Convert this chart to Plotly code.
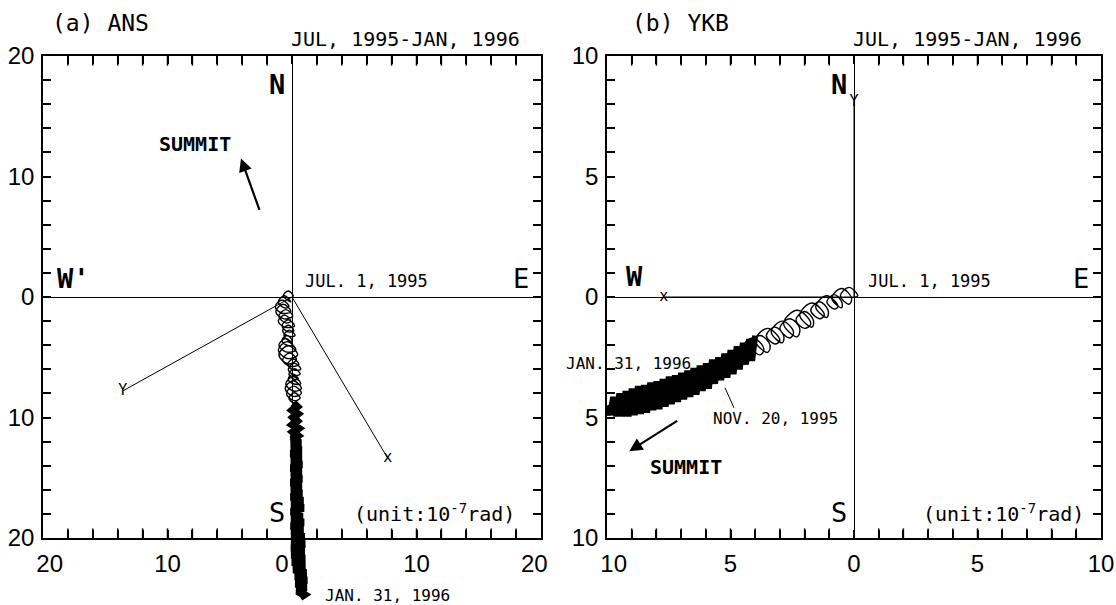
import plotly.graph_objects as go

# ---------------------------------------------------------------- data
# Tilt trajectories (east component, north component), unit 1e-7 rad

# (a) ANS - early looping part after JUL. 1, 1995
ans_loop_e = [0.0, 0.1, -0.3, -0.7, -0.3, -0.1, -0.6, -1.1, -0.6, -0.25, -0.8, -1.35, -0.8,
              -0.1, -0.7, -1.3, -0.7, 0.05, -0.5, -1.05, -0.5, -0.1, -0.6, -1.1, -0.6,
              0.2, -0.3, -0.8, -0.3, 0.15, -0.3, -0.75, -0.3, 0.25, -0.2, -0.65, -0.2,
              0.0, -0.4, -0.8, -0.4, 0.05, -0.5, -1.05, -0.5, 0.3, -0.4, -1.1, -0.4,
              0.45, -0.3, -1.05, -0.3, 0.35, -0.2, -0.75, -0.2, 0.55, 0.1, -0.35, 0.1,
              0.7, 0.2, -0.3, 0.2, 0.65, 0.2, -0.25, 0.2, 0.5, 0.1, -0.3, 0.1,
              0.7, 0.1, -0.5, 0.1, 0.75, 0.1, -0.55, 0.1, 0.75, 0.15, -0.45, 0.15,
              0.65, 0.2, -0.25, 0.2]
ans_loop_n = [0.0, 0.1, 0.5, 0.1, -0.3, -0.4, 0.1, -0.4, -0.9, -0.8, -0.25, -0.8, -1.35,
              -1.2, -0.6, -1.2, -1.8, -1.6, -1.05, -1.6, -2.15, -2.0, -1.5, -2.0, -2.5,
              -2.4, -1.9, -2.4, -2.9, -2.8, -2.35, -2.8, -3.25, -3.2, -2.75, -3.2, -3.65,
              -3.6, -3.2, -3.6, -4.0, -4.0, -3.45, -4.0, -4.55, -4.4, -3.7, -4.4, -5.1,
              -4.8, -4.05, -4.8, -5.55, -5.2, -4.65, -5.2, -5.75, -5.6, -5.15, -5.6, -6.05,
              -6.0, -5.5, -6.0, -6.5, -6.4, -5.95, -6.4, -6.85, -6.8, -6.4, -6.8, -7.2,
              -7.2, -6.6, -7.2, -7.8, -7.6, -6.95, -7.6, -8.25, -8.0, -7.4, -8.0, -8.6,
              -8.4, -7.95, -8.4, -8.85]

# (a) ANS - dense southward part until JAN. 31, 1996
ans_dense_e = [0.1, 0.4, 0.05, 0.45, 0.1, 0.4, 0.05, 0.5, 0.1, 0.45, 0.0, 0.65, 0.0, 0.7,
               -0.05, 0.7, 0.0, 0.75, -0.05, 0.7, 0.0, 0.75, -0.05, 0.7, 0.0, 0.75, -0.05,
               0.85, 0.0, 0.9, -0.05, 0.8, 0.0, 0.9, -0.05, 0.85, 0.0, 0.95, 0.0, 1.0, -0.02,
               0.95, 0.0, 1.0, 0.05, 1.0, 0.15, 1.1, 0.3, 1.15, 0.35, 1.1, 0.45, 0.95, 0.65]
ans_dense_n = [-8.8, -9.1, -9.4, -9.7, -10.0, -10.3, -10.6, -10.9, -11.2, -11.5, -11.8, -12.1,
               -12.4, -12.7, -13.0, -13.3, -13.6, -13.9, -14.2, -14.5, -14.8, -15.1, -15.4,
               -15.7, -16.0, -16.3, -16.6, -16.9, -17.2, -17.5, -17.8, -18.1, -18.4, -18.7,
               -19.0, -19.3, -19.6, -19.9, -20.2, -20.5, -20.8, -21.1, -21.4, -21.7, -22.0,
               -22.3, -22.6, -22.9, -23.2, -23.5, -23.8, -24.1, -24.4, -24.7, -24.9]

# (a) directions of the X and Y components
ans_comp_names = ["Y", "x"]
ans_comp_e = [-13.6, 7.7]
ans_comp_n = [-7.8, -13.4]

# (b) YKB - early looping part
ykb_loop_e = [0.0, 0.15, -0.2, -0.55, -0.2, -0.1, -0.5, -0.9, -0.5, -0.5, -0.8, -1.1, -0.8,
              -0.65, -1.1, -1.55, -1.1, -1.05, -1.4, -1.75, -1.4, -1.2, -1.7, -2.2, -1.7,
              -1.65, -2.0, -2.35, -2.0, -1.75, -2.3, -2.85, -2.3, -2.2, -2.6, -3.0, -2.6,
              -2.45, -2.9, -3.35, -2.9, -2.85, -3.2, -3.55, -3.2, -3.0, -3.5, -4.0, -3.5,
              -3.4, -3.8, -4.2, -3.8, -3.65, -4.1, -4.55, -4.1, -4.05, -4.4, -4.75, -4.4]
ykb_loop_n = [0.0, 0.05, 0.4, 0.05, -0.3, -0.05, 0.35, -0.05, -0.45, -0.2, 0.1, -0.2, -0.5,
              -0.4, 0.05, -0.4, -0.85, -0.55, -0.2, -0.55, -0.9, -0.75, -0.25, -0.75, -1.25,
              -0.95, -0.6, -0.95, -1.3, -1.1, -0.55, -1.1, -1.65, -1.3, -0.9, -1.3, -1.7,
              -1.45, -1.0, -1.45, -1.9, -1.6, -1.25, -1.6, -1.95, -1.8, -1.3, -1.8, -2.3,
              -2.0, -1.6, -2.0, -2.4, -2.15, -1.7, -2.15, -2.6, -2.35, -2.0, -2.35, -2.7]

# (b) YKB - dense south-westward part until JAN. 31, 1996
ykb_dense_e = [-4.0, -4.125, -4.25, -4.375, -4.5, -4.625, -4.75, -4.875, -5.0, -5.125, -5.25,
               -5.375, -5.5, -5.625, -5.75, -5.875, -6.0, -6.125, -6.25, -6.375, -6.5, -6.625,
               -6.75, -6.875, -7.0, -7.125, -7.25, -7.375, -7.5, -7.625, -7.75, -7.875, -8.0,
               -8.125, -8.25, -8.375, -8.5, -8.625, -8.75, -8.875, -9.0, -9.125, -9.25, -9.375,
               -9.5, -9.625, -9.75, -9.875, -10.0]
ykb_dense_n = [-1.6, -2.65, -1.75, -2.8, -1.9, -3.0, -2.05, -3.2, -2.2, -3.35, -2.35, -3.45,
               -2.5, -3.6, -2.6, -3.8, -2.75, -3.9, -2.85, -4.05, -2.95, -4.15, -3.05, -4.25,
               -3.15, -4.35, -3.25, -4.45, -3.3, -4.55, -3.4, -4.65, -3.5, -4.7, -3.55, -4.8,
               -3.65, -4.85, -3.7, -4.9, -3.8, -4.95, -3.9, -4.95, -4.0, -4.95, -4.15, -4.9,
               -4.5]

# (b) directions of the X and Y components
ykb_comp_names = ["Y", "x"]
ykb_comp_e = [0.0, -7.7]
ykb_comp_n = [8.1, 0.0]

# NOV. 20, 1995 position on the YKB trajectory
ykb_nov20 = (-5.22, -3.77)

# axis ticks: labels show magnitudes on both sides of zero
NB = "\u00a0"
ans_ticks = [-20, -10, 0, 10, 20]
ans_yticktext = ["20", "10", "0", "10", "20"]
ans_xticktext = [NB * 2 + "20", "10", "0" + NB * 3, "10", "20" + NB * 2]
ykb_ticks = [-10, -5, 0, 5, 10]
ykb_yticktext = ["10", "5", "0", "5", "10"]
ykb_xticktext = [NB * 2 + "10", "5", "0", "5", "10"]

# ---------------------------------------------------------------- layout
W, H = 1116, 605
A_L, A_R = 43, 541
B_L, B_R = 607, 1101
TOP, BOT = 56, 538
TICK_PX = 8

MONO = "DejaVu Sans Mono, monospace"
SANS = "Liberation Sans, Arial, sans-serif"


def fx(p):
    return p / W


def fy(p):
    return 1 - p / H


def frame_axis(rng, major, labels, minor, domain, anchor, standoff=None):
    ax = dict(
        range=rng, domain=domain, anchor=anchor, autorange=False, automargin=False,
        showline=True, linecolor="black", linewidth=1.5, mirror="allticks",
        ticks="inside", ticklen=TICK_PX, tickwidth=1.5, tickcolor="black",
        tickmode="array", tickvals=major, ticktext=labels,
        minor=dict(tickmode="linear", tick0=0, dtick=minor, ticks="inside", ticklen=TICK_PX,
                   tickwidth=1.5, tickcolor="black", showgrid=False),
        showgrid=False, zeroline=True, zerolinecolor="black", zerolinewidth=1,
        tickfont=dict(family=SANS, size=24, color="black"),
        ticklabeloverflow="allow", fixedrange=True,
    )
    if standoff is not None:
        ax["ticklabelstandoff"] = standoff
    return ax


def edge_tick_marks(lim, step, xref, yref):
    """Inward tick marks along the top and bottom edges, drawn as short vertical markers."""
    half = lim * TICK_PX / (BOT - TOP)  # half the tick length, in data units
    xs, ys = [], []
    k = -lim + step
    while k < lim - 1e-9:
        if abs(k) > 1e-9:
            xs += [k, k]
            ys += [-lim + half, lim - half]
        k += step
    return go.Scatter(x=xs, y=ys, mode="markers", cliponaxis=False,
                      marker=dict(symbol="line-ns-open", size=TICK_PX, color="black",
                                  line=dict(color="black", width=1.5)),
                      xaxis=xref, yaxis=yref, hoverinfo="skip")


fig = go.Figure()

# panel (a): component directions
fig.add_trace(go.Scatter(x=[0, ans_comp_e[0]], y=[0, ans_comp_n[0]], mode="lines",
                         line=dict(color="black", width=1), xaxis="x", yaxis="y"))
fig.add_trace(go.Scatter(x=[0, ans_comp_e[1]], y=[0, ans_comp_n[1]], mode="lines",
                         line=dict(color="black", width=1), xaxis="x", yaxis="y"))
fig.add_trace(go.Scatter(x=ans_comp_e, y=ans_comp_n, mode="text", text=ans_comp_names,
                         textfont=dict(family=MONO, size=15, color="black"),
                         textposition="middle center", xaxis="x", yaxis="y"))

# panel (a): trajectory (on an overlay axis so it can run below the frame)
fig.add_trace(go.Scatter(x=ans_loop_e, y=ans_loop_n, mode="lines",
                         line=dict(color="black", width=1.4, shape="spline", smoothing=1.1),
                         xaxis="x3", yaxis="y3"))
fig.add_trace(go.Scatter(x=ans_dense_e, y=ans_dense_n, mode="lines",
                         line=dict(color="black", width=8), xaxis="x3", yaxis="y3"))

# panel (b): component directions
fig.add_trace(go.Scatter(x=[0, ykb_comp_e[0]], y=[0, ykb_comp_n[0]], mode="lines",
                         line=dict(color="black", width=1), xaxis="x2", yaxis="y2"))
fig.add_trace(go.Scatter(x=[0, ykb_comp_e[1]], y=[0, ykb_comp_n[1]], mode="lines",
                         line=dict(color="black", width=1), xaxis="x2", yaxis="y2"))
fig.add_trace(go.Scatter(x=ykb_comp_e, y=ykb_comp_n, mode="text", text=ykb_comp_names,
                         textfont=dict(family=MONO, size=15, color="black"),
                         textposition="middle center", xaxis="x2", yaxis="y2"))

# panel (b): trajectory
fig.add_trace(go.Scatter(x=ykb_loop_e, y=ykb_loop_n, mode="lines",
                         line=dict(color="black", width=1.4, shape="spline", smoothing=1.1),
                         xaxis="x2", yaxis="y2"))
fig.add_trace(go.Scatter(x=ykb_dense_e, y=ykb_dense_n, mode="lines",
                         line=dict(color="black", width=6), xaxis="x2", yaxis="y2"))
fig.add_trace(go.Scatter(x=[ykb_nov20[0], ykb_nov20[0] + 0.36], y=[ykb_nov20[1], ykb_nov20[1] - 0.83],
                         mode="lines", line=dict(color="black", width=1), xaxis="x2", yaxis="y2"))

# tick marks on the horizontal frame edges
fig.add_trace(edge_tick_marks(20, 2, "x", "y"))
fig.add_trace(edge_tick_marks(10, 1, "x2", "y2"))

# overlay axis for panel (a): same horizontal scale, extended vertically to the page bottom
ov_bottom = 20 - 40 * (H - TOP) / (BOT - TOP)

fig.update_layout(
    width=W, height=H, autosize=False, showlegend=False,
    margin=dict(l=0, r=0, t=0, b=0, pad=0, autoexpand=False),
    paper_bgcolor="white", plot_bgcolor="rgba(0,0,0,0)",
    xaxis=frame_axis([-20, 20], ans_ticks, ans_xticktext, 2, [fx(A_L), fx(A_R)], "y", 3),
    yaxis=frame_axis([-20, 20], ans_ticks, ans_yticktext, 2, [fy(BOT), fy(TOP)], "x", 2),
    xaxis2=frame_axis([-10, 10], ykb_ticks, ykb_xticktext, 1, [fx(B_L), fx(B_R)], "y2", 3),
    yaxis2=frame_axis([-10, 10], ykb_ticks, ykb_yticktext, 1, [fy(BOT), fy(TOP)], "x2", 2),
    xaxis3=dict(range=[-20, 20], domain=[fx(A_L), fx(A_R)], anchor="y3", visible=False,
                fixedrange=True),
    yaxis3=dict(range=[ov_bottom, 20], domain=[0, fy(TOP)], anchor="x3", visible=False,
                fixedrange=True),
)


def label(text, x, y, xref, yref, size, xanchor="center", family=MONO, bold=False):
    if bold:
        text = "<b>" + text + "</b>"
    fig.add_annotation(text=text, x=x, y=y, xref=xref, yref=yref, showarrow=False,
                       xanchor=xanchor, yanchor="middle",
                       font=dict(family=family, size=size, color="black"))


# titles
label("(a) ANS", fx(50), fy(23), "paper", "paper", 23, "left")
label("JUL, 1995-JAN, 1996", fx(522), fy(39), "paper", "paper", 20, "right")
label("(b) YKB", fx(630), fy(23), "paper", "paper", 23, "left")
label("JUL, 1995-JAN, 1996", fx(1084), fy(39), "paper", "paper", 20, "right")

# panel (a) labels
label("N", -0.4, 17.6, "x", "y", 27, "right", MONO, True)
label("S", -0.4, -17.9, "x", "y", 27, "right", MONO)
label("W'", -19.0, 1.5, "x", "y", 27, "left", MONO, True)
label("E", 19.2, 1.5, "x", "y", 27, "right", MONO)
label("JUL. 1, 1995", 0.9, 1.3, "x", "y", 17, "left")
label("(unit:10<sup>-7</sup>rad)", 18.1, -17.9, "x", "y", 20, "right")
label("SUMMIT", -7.8, 12.7, "x", "y", 20, "center", MONO, True)
label("JAN. 31, 1996", 2.5, -24.8, "x3", "y3", 16, "left")

# panel (b) labels
label("N", -0.2, 8.8, "x2", "y2", 27, "right", MONO, True)
label("S", -0.2, -8.95, "x2", "y2", 27, "right", MONO)
label("W", -9.3, 0.85, "x2", "y2", 27, "left", MONO, True)
label("E", 9.6, 0.75, "x2", "y2", 27, "right", MONO)
label("JUL. 1, 1995", 0.5, 0.65, "x2", "y2", 17, "left")
label("(unit:10<sup>-7</sup>rad)", 9.4, -8.95, "x2", "y2", 20, "right")
label("JAN. 31, 1996", fx(564), fy(363), "paper", "paper", 16, "left")
label("NOV. 20, 1995", -5.8, -5.05, "x2", "y2", 16, "left")
label("SUMMIT", -6.8, -7.05, "x2", "y2", 20, "center", MONO, True)

# direction of the summit
fig.add_annotation(x=-4.1, y=11.5, ax=-2.57, ay=7.1, xref="x", yref="y", axref="x", ayref="y",
                   text="", showarrow=True, arrowhead=2, arrowsize=1.2, arrowwidth=2.2,
                   arrowcolor="black")
fig.add_annotation(x=-9.1, y=-6.4, ax=-7.1, ay=-5.1, xref="x2", yref="y2", axref="x2",
                   ayref="y2", text="", showarrow=True, arrowhead=2, arrowsize=1.2,
                   arrowwidth=2.2, arrowcolor="black")

fig.write_html("out.html")
